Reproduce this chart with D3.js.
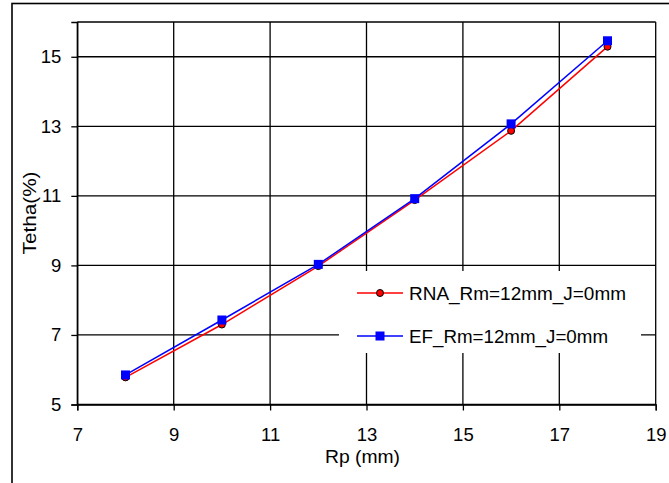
<!DOCTYPE html>
<html><head><meta charset="utf-8">
<script src="https://cdn.jsdelivr.net/npm/d3@7"></script>
<style>body{margin:0;background:#fff}svg{display:block}text{font-family:"Liberation Sans",Arial,sans-serif;fill:#000}</style>
</head><body>
<svg id="c" width="669" height="483"></svg>
<script>
const rp = [8, 10, 12, 14, 16, 18];
const rna = [5.78, 7.3, 8.98, 10.88, 12.87, 15.29];
const ef = [5.85, 7.43, 9.03, 10.92, 13.07, 15.46];
const xTicks = [7, 9, 11, 13, 15, 17, 19];
const yTicks = [5, 7, 9, 11, 13, 15];
const seriesNames = ["RNA_Rm=12mm_J=0mm", "EF_Rm=12mm_J=0mm"];

const svg = d3.select("#c");
const L = 77.3, R = 655.7, T = 22, B = 404.5;
const x = d3.scaleLinear().domain([7, 19]).range([L, R]);
const y = d3.scaleLinear().domain([5, 16]).range([B, T]);
const FS = "18.5px";

// outer border
svg.append("rect").attr("x", 12).attr("y", 3.5).attr("width", 680).attr("height", 500)
  .attr("fill", "none").attr("stroke", "#000").attr("stroke-width", 1.6);

// grid
const g = svg.append("g");
g.selectAll("line.v").data(xTicks).join("line")
  .attr("x1", d => x(d)).attr("x2", d => x(d)).attr("y1", T).attr("y2", B)
  .attr("stroke", "#000").attr("stroke-width", 1.3);
g.selectAll("line.h").data(yTicks.concat([16])).join("line")
  .attr("x1", L).attr("x2", R).attr("y1", d => y(d)).attr("y2", d => y(d))
  .attr("stroke", "#000").attr("stroke-width", 1.3);

// axes
const xa = svg.append("g").attr("transform", `translate(0,${B})`)
  .call(d3.axisBottom(x).tickValues(xTicks).tickSize(6).tickPadding(17).tickFormat(d3.format("d")));
const ya = svg.append("g").attr("transform", `translate(${L},0)`)
  .call(d3.axisLeft(y).tickValues(yTicks).tickSize(6).tickPadding(10).tickFormat(d3.format("d")));
[xa, ya].forEach(a => {
  a.select(".domain").attr("stroke", "#000").attr("stroke-width", 1.3);
  a.selectAll(".tick line").attr("stroke", "#000").attr("stroke-width", 1.3);
  a.selectAll("text").style("font-size", FS).attr("font-family", null);
});

// axis titles
svg.append("text").attr("x", 362.5).attr("y", 463).attr("text-anchor", "middle")
  .style("font-size", FS).attr("textLength", 75).attr("lengthAdjust", "spacingAndGlyphs").text("Rp (mm)");
svg.append("text").attr("transform", "translate(36,213) rotate(-90)").attr("text-anchor", "middle")
  .style("font-size", FS).attr("textLength", 83).attr("lengthAdjust", "spacingAndGlyphs").text("Tetha(%)");

// lines
const line = d3.line().x((d, i) => x(rp[i])).y(d => y(d));
svg.append("path").datum(rna).attr("d", line).attr("fill", "none").attr("stroke", "#ff0000").attr("stroke-width", 1.5);
svg.append("path").datum(ef).attr("d", line).attr("fill", "none").attr("stroke", "#0000ff").attr("stroke-width", 1.5);

// markers
svg.selectAll("circle.rna").data(rna).join("circle")
  .attr("cx", (d, i) => x(rp[i])).attr("cy", d => y(d)).attr("r", 3.5)
  .attr("fill", "#ff0000").attr("stroke", "#000").attr("stroke-width", 1);
svg.selectAll("rect.ef").data(ef).join("rect")
  .attr("x", (d, i) => x(rp[i]) - 4.5).attr("y", d => y(d) - 4.5).attr("width", 9).attr("height", 9)
  .attr("fill", "#0000ff");

// legend
const lg = svg.append("g");
lg.append("rect").attr("x", 339).attr("y", 271).attr("width", 302).attr("height", 82).attr("fill", "#fff");
const rowsY = [293, 336];
const colors = ["#ff0000", "#0000ff"];
const widths = [217, 199];
seriesNames.forEach((n, i) => {
  lg.append("line").attr("x1", 357).attr("x2", 403).attr("y1", rowsY[i]).attr("y2", rowsY[i])
    .attr("stroke", colors[i]).attr("stroke-width", 1.5);
  if (i === 0) {
    lg.append("circle").attr("cx", 380).attr("cy", rowsY[i]).attr("r", 3.5)
      .attr("fill", "#ff0000").attr("stroke", "#000").attr("stroke-width", 1);
  } else {
    lg.append("rect").attr("x", 375.5).attr("y", rowsY[i] - 4.5).attr("width", 9).attr("height", 9).attr("fill", "#0000ff");
  }
  lg.append("text").attr("x", 409).attr("y", rowsY[i] + 7).style("font-size", FS)
    .attr("textLength", widths[i]).attr("lengthAdjust", "spacingAndGlyphs").text(n);
});
</script>
</body></html>
